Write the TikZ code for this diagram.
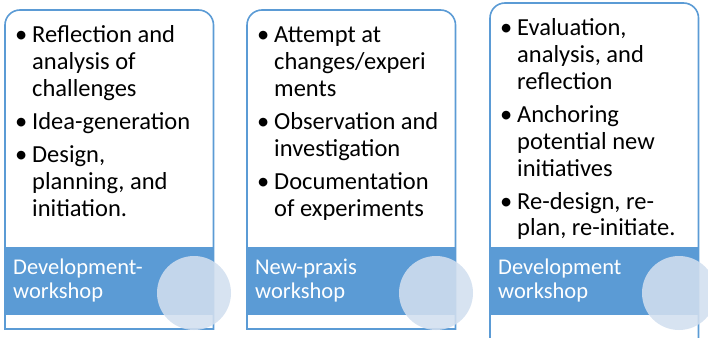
\documentclass[tikz,border=0pt]{standalone}
\usepackage{fontspec}
\setmainfont{Carlito}
\usetikzlibrary{positioning}
\definecolor{Band}{HTML}{5B9BD5}
\definecolor{Frame}{HTML}{5B9BD5}
\definecolor{Disc}{HTML}{D2DFEF}
\newcommand{\bfirst}[1]{\hangindent=17pt\hangafter=1\makebox[17pt][l]{\textbullet}#1}
\newcommand{\bitem}[1]{\par\noindent\bfirst{#1}}
\tikzset{
  items/.style={anchor=base west,inner sep=0pt,text width=195pt,align=left,
    font=\fontsize{24.5}{26.7}\selectfont,
    execute at begin node={\setlength{\parskip}{6.5pt}\spaceskip=0pt\xspaceskip=0pt}},
  bandlabel/.style={anchor=base west,inner sep=0pt,text width=180pt,align=left,text=white,
    font=\fontsize{22.5}{24}\selectfont,execute at begin node={\spaceskip=0pt}},
  frame/.style={draw=Frame,line width=1.6pt},
}

\begin{document}
\begin{tikzpicture}[x=1pt,y=-1pt]
\useasboundingbox (0,0) rectangle (708,337);
\foreach \l/\t/\b in {5/10/329,247/10/329,490/3/350}{
  \pgfmathsetmacro{\r}{\l+208.5}
  \fill[Band] (\l,247) rectangle (\r,315);
  \draw[frame] (\l,\b) -- (\l,\t+15) arc(180:270:15) -- (\r-15,\t) arc(270:360:15) -- (\r,\b) -- cycle;
  \fill[Disc,opacity=.88] (\l+189,293) circle (37);
}
% lists
\node[items] (devlist) at (15,43) {\bfirst{Reflection and\newline analysis of\newline challenges}\bitem{Idea-generation}\bitem{Design,\newline planning, and\newline initiation.}\par};
\node[items] (praxlist) at (257,43) {\bfirst{Attempt at\newline changes/experi\newline ments}\bitem{Observation and\newline investigation}\bitem{Documentation\newline of experiments}\par};
\node[items] (evallist) at (500,36) {\bfirst{Evaluation,\newline analysis, and\newline reflection}\bitem{Anchoring\newline potential new\newline initiatives}\bitem{Re-design, re-\newline plan, re-initiate.}\par};
% band labels
\node[bandlabel] (devband) at (13,274) {Development-\\workshop};
\node[bandlabel] (praxband) at (255,274) {New-praxis\\workshop};
\node[bandlabel] (evalband) at (498,274) {Development\\workshop};
\end{tikzpicture}
\end{document}
